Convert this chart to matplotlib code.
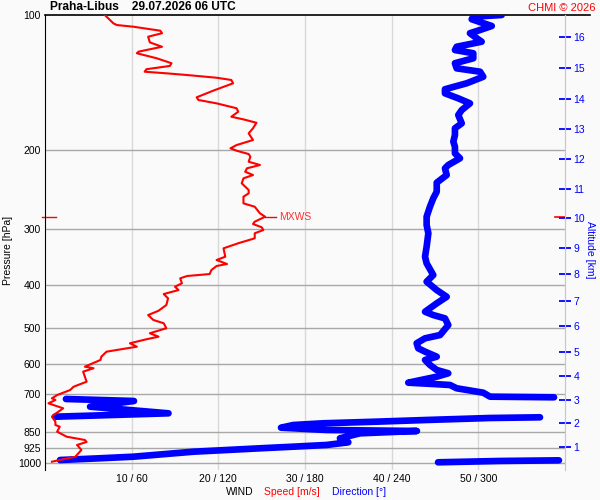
import numpy as np
import matplotlib
matplotlib.use("Agg")
import matplotlib.pyplot as plt

plt.rcParams['font.family'] = ['Liberation Sans', 'DejaVu Sans']

# wind speed profile (pressure hPa, speed m/s), top to bottom
p_speed = [100.0, 104.4, 105.3, 106.2, 108.4, 109.8, 111.8, 115.1, 117.7, 120.7,
           121.7, 124.9, 128.1, 129.9, 132.1, 133.8, 134.9, 136.1, 138.0, 139.6,
           142.0, 147.5, 152.6, 154.7, 157.4, 161.4, 164.3, 168.6, 170.9, 173.9,
           178.9, 183.6, 190.0, 195.0, 198.3, 200.7, 204.2, 207.0, 212.4, 216.0,
           219.7, 223.6, 227.4, 231.3, 237.3, 245.6, 249.8, 254.2, 263.0, 267.6,
           276.8, 281.7, 289.0, 292.4, 297.4, 301.6, 306.7, 314.7, 322.8, 331.3,
           345.9, 351.8, 359.1, 362.8, 370.4, 378.1, 381.9, 386.5, 396.5, 403.5,
           410.5, 419.0, 428.3, 443.3, 456.5, 466.7, 478.6, 486.8, 499.5, 508.2,
           512.4, 521.5, 528.5, 539.5, 549.0, 563.2, 577.9, 587.7, 608.3, 613.3,
           624.1, 657.1, 674.3, 685.8, 703.7, 715.6, 721.9, 734.3, 753.3, 779.7,
           786.5, 806.8, 820.7, 827.9, 849.4, 871.5, 886.3, 895.4, 909.3, 933.0,
           965.8, 982.3, 990.9]
speed = [6.9, 7.9, 8.3, 10.2, 13.3, 13.5, 11.9, 12.1, 13.5, 10.8,
         10.6, 12.9, 14.6, 14.4, 11.7, 11.5, 14.0, 16.4, 19.8, 21.5,
         21.7, 19.4, 17.5, 17.7, 19.8, 22.1, 22.3, 21.5, 22.9, 24.4,
         24.0, 23.5, 24.0, 22.1, 21.4, 22.1, 23.5, 23.7, 23.5, 24.8,
         23.3, 23.1, 24.0, 22.9, 22.7, 23.5, 23.5, 22.9, 22.9, 24.2,
         24.8, 25.4, 24.2, 24.0, 25.0, 25.2, 24.2, 24.2, 22.3, 20.6,
         20.8, 19.8, 21.0, 19.8, 19.2, 19.0, 16.4, 15.6, 15.8, 15.0,
         15.4, 13.7, 14.2, 14.0, 13.1, 11.9, 12.5, 13.7, 14.0, 12.7,
         12.1, 13.1, 11.7, 9.8, 10.6, 7.1, 6.5, 6.4, 4.6, 5.6,
         4.4, 4.8, 3.3, 2.9, 1.4, 0.8, 1.2, 0.4, 2.1, 1.0,
         0.8, 1.2, 1.2, 1.7, 1.4, 2.5, 4.6, 4.8, 3.7, 4.2,
         3.5, 1.7, 0.8]

# wind direction profile (pressure hPa, direction deg), top to bottom
p_dir = [100.0, 100.9, 102.2, 104.0, 105.8, 108.0, 109.8, 112.7, 114.7, 117.7,
         119.7, 121.7, 124.9, 128.1, 131.5, 133.8, 137.3, 142.0, 146.4, 149.5,
         153.4, 157.4, 162.9, 167.1, 174.4, 178.9, 185.2, 191.6, 196.6, 203.4,
         208.7, 216.0, 219.7, 227.4, 236.5, 247.7, 256.3, 267.6, 281.7, 293.9,
         306.7, 328.6, 345.9, 357.8, 380.0, 393.2, 410.5, 424.9, 439.5, 458.8,
         466.7, 474.7, 491.3, 517.1, 525.9, 539.5, 553.6, 563.2, 577.9, 587.7,
         603.0, 618.7, 629.3, 640.4, 660.4, 664.9, 668.3, 679.7, 695.3, 709.6,
         711.9, 718.1, 725.5, 747.0, 772.9, 786.5, 788.9, 791.7, 799.8, 806.8,
         813.5, 820.7, 832.1, 842.0, 846.3, 856.5, 878.7, 896.9, 909.3, 917.3,
         925.0, 941.3, 965.8, 973.6, 982.3, 984.0, 987.2, 993.9]
direction = [316.2, 296.5, 295.4, 302.3, 309.3, 301.2, 294.2, 298.9, 302.3, 285.0,
             283.8, 296.5, 296.5, 283.8, 285.0, 301.2, 303.4, 291.9, 276.9, 276.9,
             286.1, 294.2, 288.5, 286.1, 288.5, 283.8, 283.8, 282.7, 283.8, 283.8,
             287.3, 279.2, 276.9, 278.1, 271.2, 271.2, 268.8, 266.5, 264.2, 264.2,
             265.4, 264.2, 263.1, 264.2, 268.8, 264.2, 271.2, 278.1, 271.2, 263.1,
             268.8, 276.9, 279.2, 273.5, 263.1, 257.3, 258.4, 263.1, 271.2, 263.1,
             266.5, 271.2, 279.2, 271.2, 251.5, 268.6, 280.4, 285.0, 303.4, 308.1,
             352.4, 14.5, 61.6, 31.2, 85.5, 6.9, 342.7, 308.1, 264.2, 229.6,
             192.7, 171.9, 163.4, 195.0, 257.5, 218.1, 204.2, 210.0, 195.0, 171.9,
             148.8, 102.7, 61.1, 38.1, 10.4, 355.8, 315.0, 272.1]

# altitude axis: km and the pressure level read at each tick
alt_km = list(range(1, 17))
alt_p = [918.8, 812.4, 722.0, 638.0, 564.0, 494.0, 434.0, 378.0,
         330.7, 283.6, 244.0, 209.5, 179.6, 153.9, 131.3, 112.0]

p_ticks = [100, 200, 300, 400, 500, 600, 700, 850, 925, 1000]
x_ticks = [10, 20, 30, 40, 50]
x_labels = ["10 / 60", "20 / 120", "30 / 180", "40 / 240", "50 / 300"]

bg = '#fafafa'
fig = plt.figure(figsize=(6, 5), dpi=100, facecolor=bg)
ax = fig.add_axes([45 / 600, 1 - 470 / 500, 520 / 600, 455 / 500], facecolor=bg)

ax.set_yscale('log')
ax.set_ylim(1034, 100)
ax.set_xlim(0, 60)
ax.yaxis.set_minor_locator(matplotlib.ticker.NullLocator())
ax.set_yticks(p_ticks)
ax.set_yticklabels([str(p) for p in p_ticks], fontsize=7.5)
ax.set_xticks(x_ticks)
ax.set_xticklabels(x_labels, fontsize=7.5)
ax.tick_params(axis='both', length=0, pad=3)
for p in p_ticks[1:]:
    ax.axhline(p, color='#a8a8a8', lw=1, zorder=1)
for x in x_ticks:
    ax.axvline(x, color='#d8d8d8', lw=1, zorder=0)

ax.spines['bottom'].set_visible(False)
ax.spines['top'].set_visible(False)
ax.spines['right'].set_color('#c8c8c8')
ax.spines['left'].set_color('black')

# direction: 360 deg spans the same width as 60 m/s, break the line at wraps
d_x = np.array(direction) / 6.0
d_p = np.array(p_dir)
xs, ps = [d_x[0]], [d_p[0]]
for i in range(1, len(d_x)):
    if abs(d_x[i] - d_x[i - 1]) > 30:
        xs.append(np.nan)
        ps.append(np.nan)
    xs.append(d_x[i])
    ps.append(d_p[i])
ax.plot(xs, ps, color='#0000ff', lw=4.8, solid_capstyle='round',
        solid_joinstyle='round', zorder=3)

ax.plot(speed, p_speed, color='#ff0000', lw=1.5, zorder=4)

# max wind marker
imax = int(np.argmax(speed))
pmx = p_speed[imax]
ax.plot([speed[imax], speed[imax] + 1.2], [pmx, pmx], color='#ff0000', lw=1, zorder=4)
ax.text(speed[imax] + 1.6, pmx, "MXWS", color='#ff3030', fontsize=7.5, va='center')
trans = ax.get_yaxis_transform()
ax.plot([-0.006, 0.021], [pmx, pmx], color='#ff0000', lw=1, transform=trans, clip_on=False)
ax.plot([0.981, 1.0], [pmx, pmx], color='#ff0000', lw=1.2, transform=trans, clip_on=False, zorder=5)

# top line
ax.plot([0, 545 / 520], [1, 1], color='black', lw=1.2, transform=ax.transAxes, clip_on=False)

# altitude axis
ax2 = ax.twinx()
ax2.set_yscale('log')
ax2.set_ylim(1034, 100)
ax2.yaxis.set_minor_locator(matplotlib.ticker.NullLocator())
ax2.set_yticks(alt_p)
ax2.set_yticklabels([str(a) for a in alt_km], fontsize=7.5, color='#0000ff')
ax2.tick_params(axis='y', colors='#0000ff', direction='inout', length=8, width=1.3, pad=2)
for s in ['top', 'bottom', 'left']:
    ax2.spines[s].set_visible(False)
ax2.spines['right'].set_color('#c8c8c8')

fig.text(50 / 600, 1 - 7 / 500, "Praha-Libus    29.07.2026 06 UTC", fontsize=8.6,
         weight='bold', va='center', ha='left')
fig.text(596 / 600, 1 - 8 / 500, "CHMI © 2026", fontsize=8, color='#ff0000',
         va='center', ha='right')
fig.text(8 / 600, 1 - 250 / 500, "Pressure [hPa]", fontsize=7.5, rotation=90,
         va='center', ha='center')
fig.text(590 / 600, 1 - 250 / 500, "Altitude [km]", fontsize=7.5, rotation=270,
         va='center', ha='center', color='#0000ff')
fig.text(226 / 600, 1 - 492 / 500, "WIND", fontsize=7.5, va='center', ha='left')
fig.text(264 / 600, 1 - 492 / 500, "Speed [m/s]", fontsize=7.5, va='center', ha='left',
         color='#ff0000')
fig.text(332 / 600, 1 - 492 / 500, "Direction [°]", fontsize=7.5, va='center', ha='left',
         color='#0000ff')

fig.savefig("out.png", dpi=100, facecolor=bg)
